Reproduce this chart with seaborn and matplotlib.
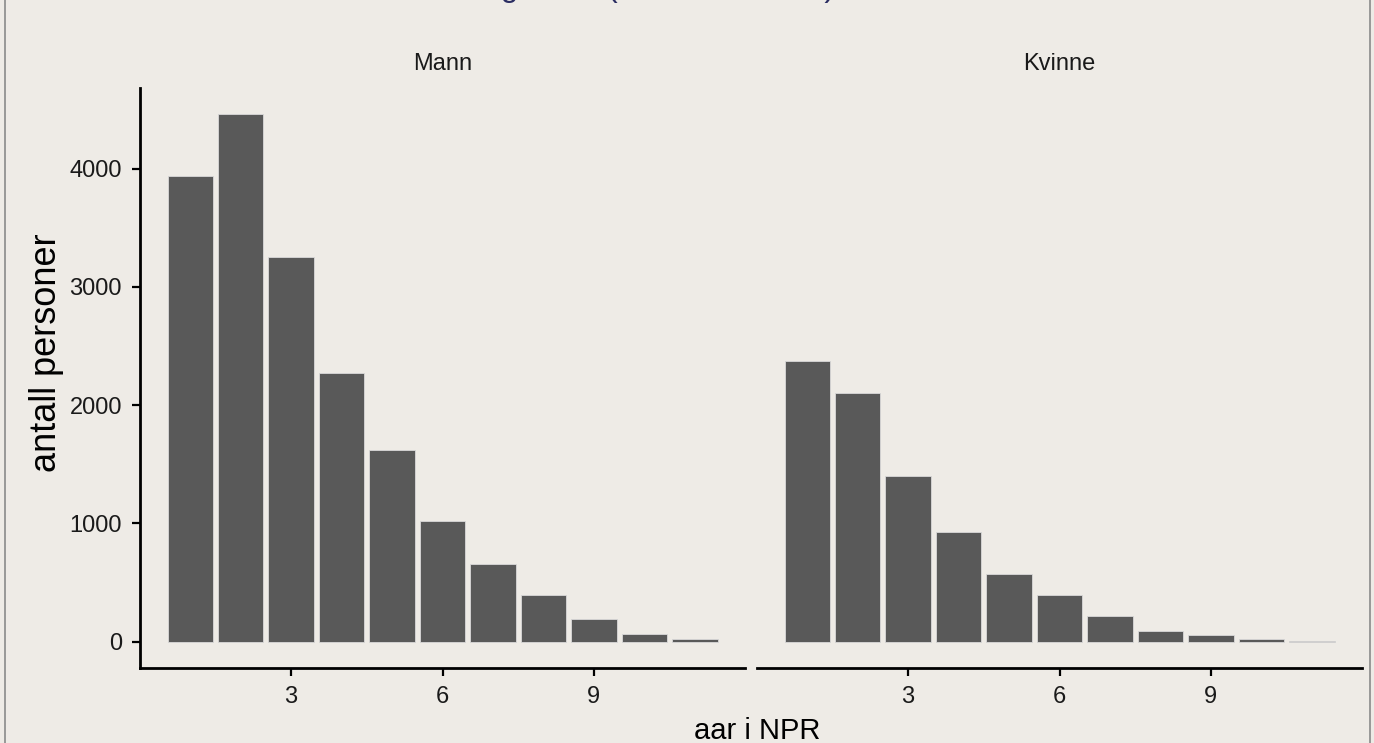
import matplotlib
matplotlib.use("Agg")
import matplotlib.pyplot as plt
import seaborn as sns
import pandas as pd
from matplotlib.patches import Rectangle

# ---- data ----
aar = [1, 2, 3, 4, 5, 6, 7, 8, 9, 10, 11]
mann = [3935, 4460, 3255, 2270, 1620, 1023, 658, 395, 192, 65, 22]
kvinne = [2373, 2106, 1400, 924, 575, 392, 214, 93, 59, 20, 6]
panels = ["Mann", "Kvinne"]
x_ticks = [3, 6, 9]
y_ticks = [0, 1000, 2000, 3000, 4000]
title = "Tid registrert (antall år i NPR)"
x_label = "aar i NPR"
y_label = "antall personer"

df = pd.DataFrame({
    "aar": aar * 2,
    "antall": mann + kvinne,
    "kjonn": ["Mann"] * len(aar) + ["Kvinne"] * len(aar),
})

sns.set_theme(style="white")
plt.rcParams["font.family"] = ["Liberation Sans", "DejaVu Sans"]

W, H = 1374, 743
bg = "#EEEBE6"
fig = plt.figure(figsize=(W / 100, H / 100), dpi=100, facecolor=bg)

# border of the original figure (cropped)
fig.patches.append(Rectangle((5 / W, -0.1), (1370 - 5) / W, 1.2, transform=fig.transFigure,
                             fill=False, edgecolor="#8a8a8a", linewidth=1.2, zorder=0))

bottom = 1 - 668 / H
top = 1 - 88 / H
height = top - bottom
lefts = [140 / W, 757 / W]
width = 605 / W

ymax = max(mann + kvinne)
ylim = (-0.05 * ymax, 1.05 * ymax)
bar_w = 0.9
span = (max(aar) + bar_w / 2) - (min(aar) - bar_w / 2)
xlim = (min(aar) - bar_w / 2 - 0.05 * span, max(aar) + bar_w / 2 + 0.05 * span)

for i, name in enumerate(panels):
    ax = fig.add_axes([lefts[i], bottom, width, height])
    ax.set_facecolor(bg)
    sub = df[df["kjonn"] == name]
    sns.barplot(data=sub, x="aar", y="antall", native_scale=True, width=bar_w,
                color="#595959", saturation=1, edgecolor="#d9d9d9", linewidth=0.6, ax=ax)
    ax.set_xlim(*xlim)
    ax.set_ylim(*ylim)
    ax.set_xticks(x_ticks)
    ax.set_xticklabels([str(t) for t in x_ticks], fontsize=17, color="#1a1a1a")
    ax.set_xlabel("")
    ax.set_ylabel("")
    for s in ["top", "right"]:
        ax.spines[s].set_visible(False)
    ax.spines["bottom"].set_color("black")
    ax.spines["bottom"].set_linewidth(2)
    ax.tick_params(axis="x", bottom=True, length=6, width=1.6, color="black", pad=7)
    if i == 0:
        ax.set_yticks(y_ticks)
        ax.set_yticklabels([str(t) for t in y_ticks], fontsize=17, color="#1a1a1a")
        ax.spines["left"].set_color("black")
        ax.spines["left"].set_linewidth(2)
        ax.tick_params(axis="y", left=True, length=6, width=1.6, color="black", pad=7)
    else:
        ax.spines["left"].set_visible(False)
        ax.set_yticks(y_ticks)
        ax.set_yticklabels([])
        ax.tick_params(axis="y", left=False)
    ax.grid(False)
    fig.text(lefts[i] + width / 2, 1 - 64 / H, name,
             ha="center", va="center", fontsize=17, color="#1a1a1a")

fig.text(757 / W, 1 - 739 / H, x_label, ha="center", va="baseline",
         fontsize=21, color="black")
fig.text(47 / W, 1 - 353 / H, y_label, ha="center", va="center", rotation=90,
         fontsize=26, color="black")

# title (cropped at the top edge in the reference)
fig.text(420 / W, 1 + 4 / H, title, ha="left", va="baseline", fontsize=23,
         color="#2B2D62")

fig.savefig("out.png", dpi=100, facecolor=bg)
